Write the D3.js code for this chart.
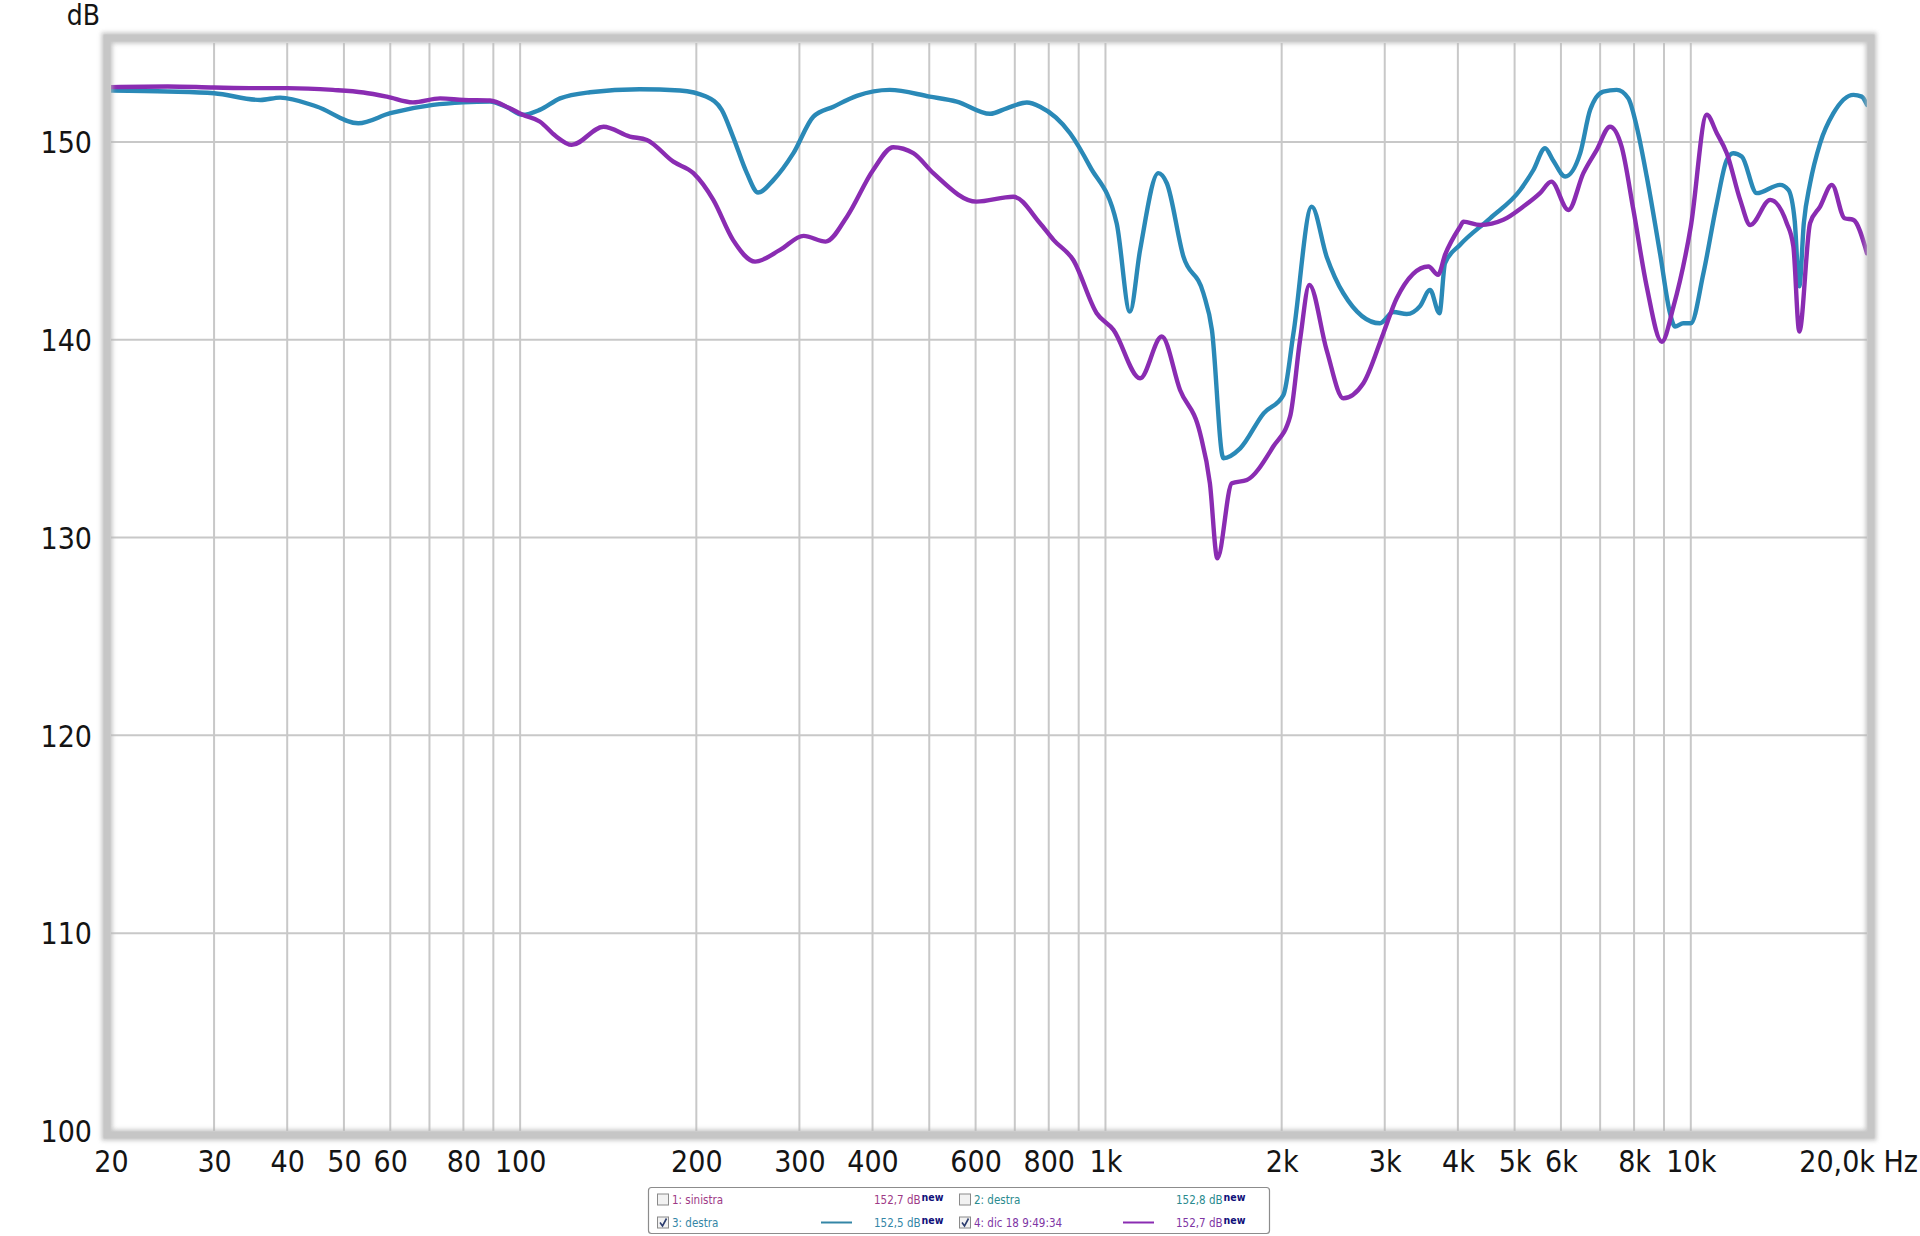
<!DOCTYPE html>
<html>
<head>
<meta charset="utf-8">
<script src="https://cdn.jsdelivr.net/npm/d3@7/dist/d3.min.js"></script>
<style>
  html, body { margin: 0; padding: 0; background: #ffffff; }
  svg { display: block; }
  text { font-family: "DejaVu Sans Condensed", "DejaVu Sans", sans-serif; font-stretch: condensed; }
</style>
</head>
<body>
<svg id="chart" width="1920" height="1236"></svg>
<script>
// ---------------- data ----------------
const blueFreq = [20, 25, 30, 36, 38.9, 44.9, 52.9, 60, 71, 80, 88.8, 95, 101, 108, 117, 131.6, 160, 187.5, 207.8, 221, 231, 244, 255, 271, 293, 317, 343, 376, 428, 501, 557, 635, 678, 734, 773, 870, 941, 1045, 1101, 1146, 1231, 1273, 1359, 1470, 1520, 1590, 1699, 1863, 2014, 2095, 2251, 2387, 2549, 2944, 3104, 3271, 3447, 3585, 3720, 3803, 4036, 4541, 5112, 5384, 5637, 5812, 6103, 6473, 6731, 7089, 7472, 7820, 8084, 8409, 8860, 9215, 9400, 9710, 10000, 10509, 11078, 11521, 11818, 12220, 12963, 14212, 14682, 15050, 15323, 15600, 15988, 16630, 17526, 18960, 19590, 20000];
const blueDb = [152.6, 152.55, 152.46, 152.12, 152.24, 151.79, 150.94, 151.45, 151.87, 152.0, 152.04, 151.75, 151.37, 151.62, 152.2, 152.51, 152.66, 152.6, 152.29, 151.62, 150.27, 148.42, 147.44, 148.08, 149.43, 151.28, 151.78, 152.33, 152.63, 152.29, 152.04, 151.42, 151.7, 151.99, 151.78, 150.44, 148.75, 145.89, 141.42, 144.54, 148.42, 147.91, 144.2, 142.35, 140.5, 134.01, 134.51, 136.28, 137.21, 140.33, 146.73, 144.2, 142.35, 140.83, 141.4, 141.3, 141.7, 142.52, 141.34, 143.87, 144.8, 146.14, 147.57, 148.58, 149.68, 149.09, 148.25, 149.43, 151.62, 152.54, 152.63, 152.21, 150.77, 148.25, 144.37, 141.34, 140.66, 140.83, 140.83, 143.36, 146.9, 149.09, 149.43, 149.26, 147.41, 147.83, 147.57, 146.0, 142.7, 145.9, 147.9, 149.93, 151.45, 152.38, 152.29, 151.87];

const purpleFreq = [20, 25, 30, 35.5, 40, 47.9, 54, 59.2, 65.6, 73, 80, 88.8, 96, 101, 108, 115, 122.5, 138.8, 154, 164.6, 182.7, 197.7, 213.8, 231, 252, 278, 305, 332.6, 361.7, 401, 434, 469.6, 508, 602, 696, 773, 815, 881, 966, 1032, 1146, 1248, 1341, 1451, 1508, 1553, 1644, 1744, 1935, 2067, 2150, 2230, 2387, 2549, 2758, 2984, 3145, 3562, 3700, 3803, 4036, 4089, 4366, 4783, 5175, 5526, 5778, 6178, 6553, 6908, 7278, 7617, 7979, 8409, 8921, 9340, 10000, 10648, 11078, 11521, 12144, 12634, 13666, 14588, 14970, 15323, 15988, 16630, 17420, 18310, 18950, 20000];
const purpleDb = [152.77, 152.8, 152.75, 152.72, 152.72, 152.63, 152.5, 152.29, 152.0, 152.2, 152.12, 152.09, 151.7, 151.37, 151.03, 150.3, 149.85, 150.77, 150.27, 150.1, 149.0, 148.42, 147.07, 145.05, 143.95, 144.54, 145.25, 144.96, 146.22, 148.58, 149.73, 149.43, 148.42, 146.98, 147.23, 145.89, 145.05, 144.03, 141.34, 140.5, 138.05, 140.16, 137.46, 135.27, 132.74, 128.95, 132.74, 132.91, 134.6, 136.11, 139.99, 142.77, 139.48, 137.04, 137.8, 140.33, 142.1, 143.7, 143.28, 144.29, 145.72, 145.97, 145.8, 146.06, 146.73, 147.41, 147.99, 146.56, 148.42, 149.6, 150.77, 149.76, 146.56, 142.68, 139.9, 141.67, 145.72, 151.37, 150.44, 149.43, 147.07, 145.8, 147.07, 145.89, 144.71, 140.41, 145.89, 146.73, 147.83, 146.14, 146.06, 144.37];

const yTicks = [100, 110, 120, 130, 140, 150];
const xGrid = [30, 40, 50, 60, 70, 80, 90, 100, 200, 300, 400, 500, 600, 700, 800, 900, 1000, 2000, 3000, 4000, 5000, 6000, 7000, 8000, 9000, 10000];
const xLabelValues = [20, 30, 40, 50, 60, 80, 100, 200, 300, 400, 600, 800, 1000, 2000, 3000, 4000, 5000, 6000, 8000, 10000];
const xLabelTexts = ["20", "30", "40", "50", "60", "80", "100", "200", "300", "400", "600", "800", "1k", "2k", "3k", "4k", "5k", "6k", "8k", "10k"];
const xEndLabel = "20,0k Hz";
const yUnit = "dB";

const legendLabels = ["1: sinistra", "2: destra", "3: destra", "4: dic 18 9:49:34"];
const legendValues = ["152,7 dB", "152,8 dB", "152,5 dB", "152,7 dB"];
const legendChecked = [false, false, true, true];
const legendLine = [false, false, true, true];

// ---------------- styles ----------------
const blueColor = "#2a89b7";
const purpleColor = "#8a2cb2";
const legendColors = ["#9e3a86", "#2a8a8e", "#3486a6", "#7e36a4"];
const gridColor = "#c8c8c8";

const svg = d3.select("#chart");
const W = 1920, H = 1236;
const pLeft = 111, pRight = 1867, pTop = 43, pBottom = 1131;

const x = d3.scaleLog().domain([20, 20000]).range([pLeft, pRight]);
const y = d3.scaleLinear().domain([100, 155]).range([pBottom, pTop]);

const defs = svg.append("defs");
const shadow = defs.append("filter").attr("id", "soft").attr("x", "-5%").attr("y", "-5%").attr("width", "110%").attr("height", "110%");
shadow.append("feGaussianBlur").attr("stdDeviation", 2.2);

svg.append("rect").attr("width", W).attr("height", H).attr("fill", "#ffffff");

// grid
const grid = svg.append("g");
grid.selectAll("line.v").data(xGrid).join("line").attr("class", "v")
  .attr("x1", d => x(d)).attr("x2", d => x(d))
  .attr("y1", pTop).attr("y2", pBottom)
  .attr("stroke", gridColor).attr("stroke-width", 2);
grid.selectAll("line.h").data(yTicks.filter(d => d > 100)).join("line").attr("class", "h")
  .attr("x1", pLeft).attr("x2", pRight)
  .attr("y1", d => y(d)).attr("y2", d => y(d))
  .attr("stroke", gridColor).attr("stroke-width", 2);

// curves
const clip = defs.append("clipPath").attr("id", "plotclip");
clip.append("rect").attr("x", pLeft).attr("y", pTop).attr("width", pRight - pLeft).attr("height", pBottom - pTop);

const line = d3.line().x(d => x(d[0])).y(d => y(d[1])).curve(d3.curveMonotoneX);
const plot = svg.append("g").attr("clip-path", "url(#plotclip)");
plot.append("path").datum(d3.zip(blueFreq, blueDb))
  .attr("d", line).attr("fill", "none").attr("stroke", blueColor)
  .attr("stroke-width", 4.4).attr("stroke-linejoin", "round").attr("stroke-linecap", "round");
plot.append("path").datum(d3.zip(purpleFreq, purpleDb))
  .attr("d", line).attr("fill", "none").attr("stroke", purpleColor)
  .attr("stroke-width", 4.4).attr("stroke-linejoin", "round").attr("stroke-linecap", "round");

// frame (soft shadow + crisp)
svg.append("rect").attr("x", pLeft - 4).attr("y", pTop - 5).attr("width", pRight - pLeft + 8).attr("height", pBottom - pTop + 9)
  .attr("fill", "none").attr("stroke", "#b9b9b9").attr("stroke-width", 11).attr("filter", "url(#soft)").attr("opacity", 0.8);
svg.append("rect").attr("x", pLeft - 4).attr("y", pTop - 5).attr("width", pRight - pLeft + 8).attr("height", pBottom - pTop + 9)
  .attr("fill", "none").attr("stroke", "#c6c6c6").attr("stroke-width", 7);

// y axis labels
const yAxis = d3.axisLeft(y).tickValues(yTicks).tickSize(0).tickPadding(0).tickFormat(d3.format("d"));
const gy = svg.append("g").attr("transform", "translate(92,0)").call(yAxis);
gy.select(".domain").remove();
gy.attr("font-family", null).attr("font-size", null);
gy.selectAll("text").attr("font-size", 30).attr("fill", "#141414").attr("dy", "0.36em");

// x axis labels
const xAxis = d3.axisBottom(x).tickValues(xLabelValues).tickSize(0).tickPadding(0)
  .tickFormat((d, i) => xLabelTexts[i]);
const gx = svg.append("g").attr("transform", "translate(0,1150)").call(xAxis);
gx.select(".domain").remove();
gx.attr("font-family", null).attr("font-size", null);
gx.selectAll("text").attr("font-size", 30).attr("fill", "#141414").attr("dy", "0.73em");

svg.append("text").attr("x", W - 2).attr("y", 1172).attr("text-anchor", "end")
  .attr("font-size", 30).attr("fill", "#141414").text(xEndLabel);

svg.append("text").attr("x", 100).attr("y", 25).attr("text-anchor", "end")
  .attr("font-size", 28).attr("fill", "#141414").text(yUnit);

// legend
const lg = svg.append("g");
lg.append("rect").attr("x", 648.5).attr("y", 1187.5).attr("width", 621).attr("height", 46).attr("rx", 3)
  .attr("fill", "#ffffff").attr("stroke", "#8c8c8c").attr("stroke-width", 1.2);

const colX = [657, 959];
const rowY = [1199.5, 1222.5];
legendLabels.forEach((lab, i) => {
  const cx = colX[i % 2], cy = rowY[Math.floor(i / 2)];
  const g = lg.append("g");
  g.append("rect").attr("x", cx + 0.5).attr("y", cy - 5.5).attr("width", 11).attr("height", 11)
    .attr("fill", "#f2f2f2").attr("stroke", "#8a8a8a").attr("stroke-width", 1);
  if (legendChecked[i]) {
    g.append("path").attr("d", `M${cx + 3},${cy} L${cx + 5.5},${cy + 3.5} L${cx + 9.5},${cy - 4}`)
      .attr("fill", "none").attr("stroke", "#2b3c6e").attr("stroke-width", 1.6);
  }
  g.append("text").attr("x", cx + 15).attr("y", cy + 4).attr("font-size", 11.5)
    .attr("fill", legendColors[i]).text(lab);
  if (legendLine[i]) {
    g.append("line").attr("x1", cx + 164).attr("x2", cx + 195).attr("y1", cy).attr("y2", cy)
      .attr("stroke", i === 2 ? "#3486a6" : purpleColor).attr("stroke-width", 2);
  }
  const vt = g.append("text").attr("x", cx + 217).attr("y", cy + 4).attr("font-size", 11.5)
    .attr("fill", legendColors[i]).text(legendValues[i]);
  const endX = cx + 217 + vt.node().getComputedTextLength();
  g.append("text").attr("x", endX + 1).attr("y", cy + 1.5).attr("font-size", 10.5).attr("font-weight", "bold")
    .attr("font-family", "'Liberation Sans', Arial, sans-serif").attr("font-stretch", "normal")
    .attr("fill", "#10107a").text("new");
});
</script>
</body>
</html>
